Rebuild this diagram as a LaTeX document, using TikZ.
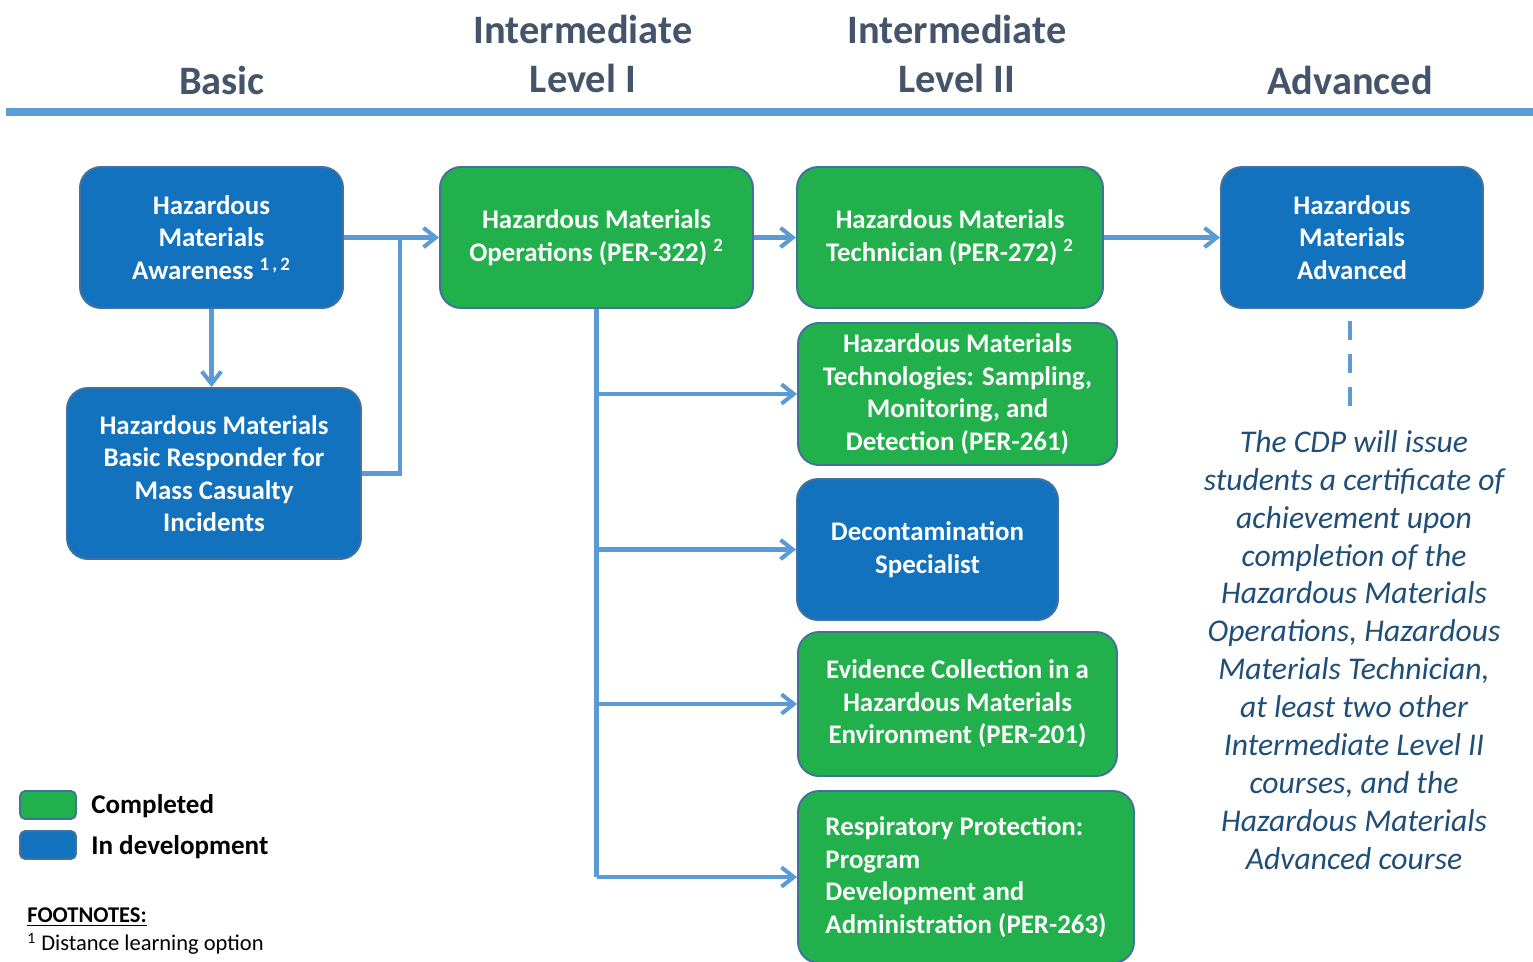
\documentclass[tikz,border=0pt]{standalone}
\usepackage{fontspec}
\setmainfont{Carlito}
\usetikzlibrary{arrows.meta}

\definecolor{devblue}{HTML}{1372BE}
\definecolor{donegreen}{HTML}{21B04B}
\definecolor{boxline}{HTML}{41719C}
\definecolor{linkblue}{HTML}{5B9BD5}
\definecolor{headgray}{HTML}{44546A}
\definecolor{notetext}{HTML}{1F4E79}

\def\pxsize{0.02cm}
\newcommand\boxfont{\fontsize{15.3}{18.5}\selectfont\bfseries}
\newcommand\levelfont{\fontsize{23}{27.6}\selectfont\bfseries}
\newcommand\notefont{\fontsize{18}{21.6}\selectfont\itshape}
\newcommand\keyfont{\fontsize{15.4}{17}\selectfont\bfseries}
\newcommand\footfont{\fontsize{12.8}{14}\selectfont}

\begin{document}
\begin{tikzpicture}[x=0.02cm,y=-0.02cm,>={Straight Barb[length=7pt,width=11pt]}]
		\tikzstyle{course}=[draw=boxline,line width=1.1pt,rounded corners=0.42cm,text=white,font=\boxfont,align=center,inner sep=0pt]
		\tikzstyle{done course}=[course,fill=donegreen];
		\tikzstyle{dev course}=[course,fill=devblue];
		\tikzstyle{link}=[draw=linkblue,line width=2.3pt];
		\tikzstyle{level}=[font=\levelfont,text=headgray,align=center];
		\tikzstyle{key}=[course,rounded corners=3pt,minimum width=56*\pxsize,minimum height=28*\pxsize];

		\useasboundingbox (0,0) rectangle (1533,961);

			% Draw the level headings and the rule under them
		\node[level] (basic) at (222,80) {Basic};
		\node[level] (inter-1) at (583,54) {Intermediate\\Level I};
		\node[level] (inter-2) at (957,54) {Intermediate\\Level II};
		\node[level] (advanced) at (1350,80) {Advanced};
		\draw[linkblue,line width=4pt] (6,112) -- (1533,112);

			% Draw the course boxes
		\node[dev course,minimum width=263*\pxsize,minimum height=141*\pxsize] (aware) at (211.5,237.5)
			{Hazardous\\Materials\\Awareness \textsuperscript{1\,,\,2}};
		\node[dev course,minimum width=294*\pxsize,minimum height=171*\pxsize] (mci) at (214,473.5)
			{Hazardous Materials\\Basic Responder for\\Mass Casualty\\Incidents};
		\node[done course,minimum width=313*\pxsize,minimum height=141*\pxsize] (ops) at (596.5,237.5)
			{Hazardous Materials\\Operations (PER-322) \textsuperscript{2}};
		\node[done course,minimum width=306*\pxsize,minimum height=141*\pxsize] (tech) at (950,237.5)
			{Hazardous Materials\\Technician (PER-272) \textsuperscript{2}};
		\node[dev course,minimum width=262*\pxsize,minimum height=141*\pxsize] (adv) at (1352,237.5)
			{Hazardous\\Materials\\Advanced};
		\node[done course,minimum width=319*\pxsize,minimum height=142*\pxsize] (sampl) at (957.5,394)
			{Hazardous Materials\\Technologies: Sampling,\\Monitoring, and\\Detection (PER-261)};
		\node[dev course,minimum width=261*\pxsize,minimum height=141*\pxsize] (decon) at (927.5,549.5)
			{Decontamination\\Specialist};
		\node[done course,minimum width=319*\pxsize,minimum height=144*\pxsize] (evid) at (957.5,704)
			{Evidence Collection in a\\Hazardous Materials\\Environment (PER-201)};
		\node[done course,align=left,minimum width=336*\pxsize,minimum height=172*\pxsize] (resp) at (966,877)
			{Respiratory Protection:\\Program\\Development and\\Administration (PER-263)};

			% Connect the courses
		\coordinate (join) at (400,237.5);
		\draw[link,->] (aware.east) -- (ops.west);
		\draw[link] (mci.east) -| (join);
		\draw[link,->] (aware.south) -- (aware.south |- mci.north);
		\draw[link,->] (ops.east) -- (tech.west);
		\draw[link,->] (tech.east) -- (adv.west);
		\draw[link] (ops.south) -- (ops.south |- resp.west);
		\foreach \dest in {sampl,decon,evid,resp}
		\draw[link,->] (ops.south |- \dest.west) -- (\dest.west);

			% Certificate note under the advanced course
		\node[font=\notefont,text=notetext,align=center,inner sep=0pt] (note) at (1354,650)
			{The CDP will issue\\students a certificate of\\achievement upon\\completion of the\\Hazardous Materials\\Operations, Hazardous\\Materials Technician,\\at least two other\\Intermediate Level II\\courses, and the\\Hazardous Materials\\Advanced course};
		\draw[link,line width=2.8pt,dash pattern=on 0.38cm off 0.28cm,shorten <=12*\pxsize,shorten >=12*\pxsize] ([xshift=-2*\pxsize]adv.south) -- ([xshift=-2*\pxsize]adv.south |- note.north);

			% Legend and footnotes
		\node[key,fill=donegreen] (key-done) at (48,805) {};
		\node[key,fill=devblue] (key-dev) at (48,845) {};
		\node[anchor=west,font=\keyfont,inner sep=0pt] (done-label) at (91,806) {Completed};
		\node[anchor=west,font=\keyfont,inner sep=0pt] (dev-label) at (91,847) {In development};
		\node[anchor=west,font=\footfont\bfseries,inner sep=0pt] (foot-head) at (27,917) {\underline{FOOTNOTES:}};
		\node[anchor=west,font=\footfont,inner sep=0pt] (foot-1) at (27,944) {\textsuperscript{1} Distance learning option};
\end{tikzpicture}
\end{document}
